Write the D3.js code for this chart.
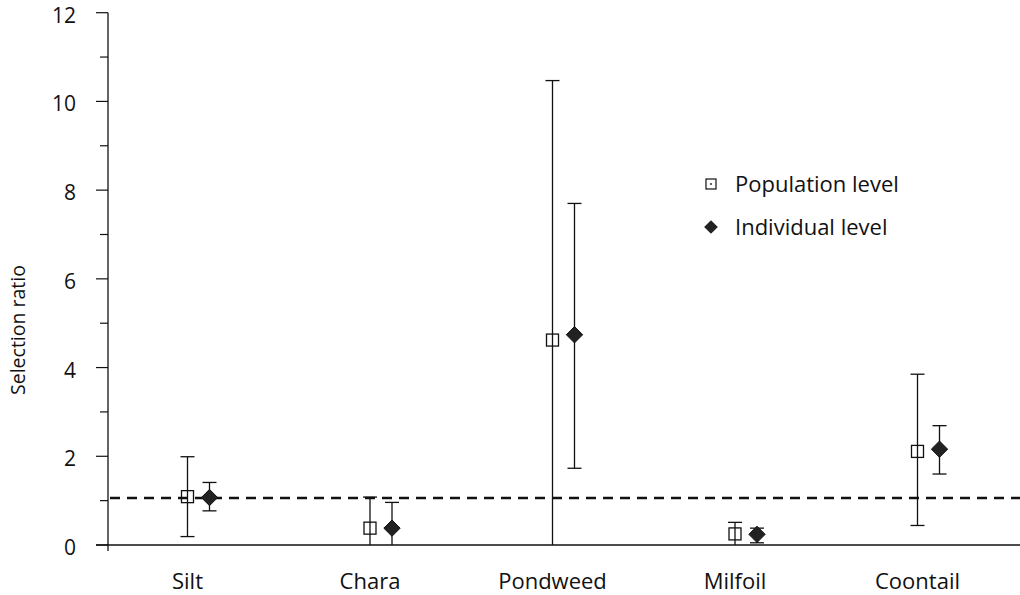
<!DOCTYPE html>
<html>
<head>
<meta charset="UTF-8">
<title>Selection ratio</title>
<script src="https://cdn.jsdelivr.net/npm/d3@7/dist/d3.min.js"></script>
<style>
  body { margin: 0; background: #fff; }
  text { font-family: "Open Sans", "Noto Sans", sans-serif; fill: #111; }
</style>
</head>
<body>
<script>
// data
var categories = ["Silt", "Chara", "Pondweed", "Milfoil", "Coontail"];
var popValue = [1.09, 0.38, 4.62, 0.25, 2.11];
var popHigh  = [1.99, 1.08, 10.47, 0.51, 3.85];
var popLow   = [0.19, 0, 0, 0, 0.44];
var indValue = [1.07, 0.38, 4.74, 0.24, 2.16];
var indHigh  = [1.41, 0.96, 7.70, 0.38, 2.69];
var indLow   = [0.77, 0, 1.73, 0.05, 1.60];
var yTicks = [0, 2, 4, 6, 8, 10, 12];
var refLine = 1.06;

var w = 1020, h = 595;
var svg = d3.select("body").append("svg")
    .attr("width", w).attr("height", h);

var x = d3.scalePoint().domain(categories).range([187.5, 917.5]);
var y = d3.scaleLinear().domain([0, 12]).range([545, 12.7]);
var offset = 22;

// y axis
var yAxis = svg.append("g").attr("transform", "translate(108,0)");
yAxis.append("line").attr("x1", 0).attr("x2", 0)
    .attr("y1", y(12)).attr("y2", y(0) + 6)
    .attr("stroke", "#111").attr("stroke-width", 1.3);
yAxis.selectAll(".major").data(yTicks).enter().append("line")
    .attr("x1", -12).attr("x2", 0)
    .attr("y1", function(d){return y(d)}).attr("y2", function(d){return y(d)})
    .attr("stroke", "#111").attr("stroke-width", 1.2);
yAxis.selectAll(".minor").data(d3.range(1, 12, 2)).enter().append("line")
    .attr("x1", -8).attr("x2", 0)
    .attr("y1", function(d){return y(d)}).attr("y2", function(d){return y(d)})
    .attr("stroke", "#111").attr("stroke-width", 1.2);
yAxis.selectAll("text").data(yTicks).enter().append("text")
    .attr("x", -32).attr("y", function(d){return y(d) + 2.5})
    .attr("dy", "0.36em").attr("text-anchor", "end")
    .style("font-size", "21px")
    .text(function(d){return d});

svg.append("text")
    .attr("transform", "translate(25,330) rotate(-90)")
    .attr("text-anchor", "middle")
    .style("font-size", "19.5px")
    .text("Selection ratio");

// x axis
svg.append("line").attr("x1", 96).attr("x2", w)
    .attr("y1", y(0)).attr("y2", y(0))
    .attr("stroke", "#111").attr("stroke-width", 1.3);
svg.selectAll(".cat").data(categories).enter().append("text")
    .attr("x", function(d){return x(d)})
    .attr("y", 589)
    .attr("text-anchor", "middle")
    .style("font-size", "22px")
    .text(function(d){return d});

// reference line
svg.append("line").attr("x1", 110).attr("x2", w)
    .attr("y1", y(refLine)).attr("y2", y(refLine))
    .attr("stroke", "#111").attr("stroke-width", 2.6)
    .attr("stroke-dasharray", "10,7");

function errorBars(vals, lo, hi, dx) {
  var g = svg.append("g");
  categories.forEach(function(c, i){
    var cx = x(c) + dx;
    g.append("line").attr("x1", cx).attr("x2", cx)
        .attr("y1", y(hi[i])).attr("y2", y(lo[i]))
        .attr("stroke", "#111").attr("stroke-width", 1.3);
    g.append("line").attr("x1", cx - 7).attr("x2", cx + 7)
        .attr("y1", y(hi[i])).attr("y2", y(hi[i]))
        .attr("stroke", "#111").attr("stroke-width", 1.3);
    if (lo[i] > 0) {
      g.append("line").attr("x1", cx - 7).attr("x2", cx + 7)
          .attr("y1", y(lo[i])).attr("y2", y(lo[i]))
          .attr("stroke", "#111").attr("stroke-width", 1.3);
    }
  });
}
errorBars(popValue, popLow, popHigh, 0);
errorBars(indValue, indLow, indHigh, offset);

// population markers: open squares
svg.selectAll(".pop").data(popValue).enter().append("rect")
    .attr("x", function(d, i){return x(categories[i]) - 6})
    .attr("y", function(d){return y(d) - 6})
    .attr("width", 12).attr("height", 12)
    .attr("fill", "none").attr("stroke", "#111").attr("stroke-width", 1.3);

// individual markers: filled diamonds
var diamond = d3.symbol().type(d3.symbolDiamond2).size(170);
svg.selectAll(".ind").data(indValue).enter().append("path")
    .attr("d", diamond)
    .attr("transform", function(d, i){return "translate(" + (x(categories[i]) + offset) + "," + y(d) + ")"})
    .attr("fill", "#222").attr("stroke", "#111").attr("stroke-width", 1);

// legend
var legend = svg.append("g").attr("transform", "translate(711,184)");
legend.append("rect").attr("x", -5).attr("y", -5).attr("width", 10).attr("height", 10)
    .attr("fill", "none").attr("stroke", "#111").attr("stroke-width", 1.2);
legend.append("rect").attr("x", -0.8).attr("y", -0.8).attr("width", 1.6).attr("height", 1.6)
    .attr("fill", "#111");
legend.append("text").attr("x", 24).attr("y", 0).attr("dy", "0.36em")
    .style("font-size", "22px").text("Population level");
legend.append("path").attr("d", d3.symbol().type(d3.symbolDiamond2).size(120))
    .attr("transform", "translate(0,43)").attr("fill", "#222");
legend.append("text").attr("x", 24).attr("y", 43).attr("dy", "0.36em")
    .style("font-size", "22px").text("Individual level");
</script>
</body>
</html>
